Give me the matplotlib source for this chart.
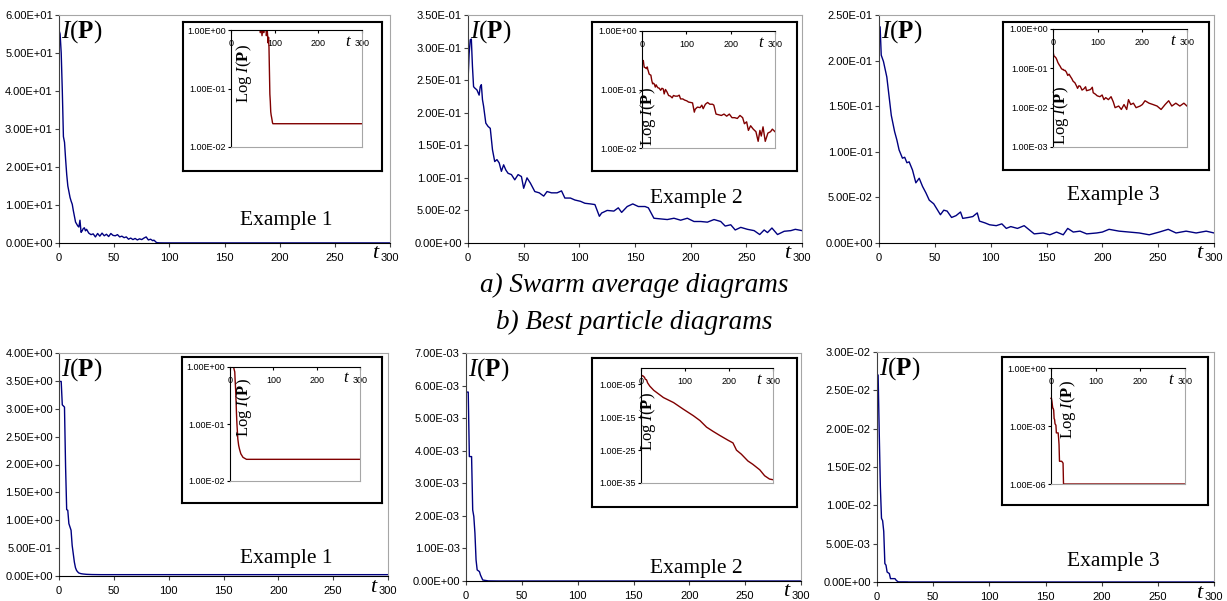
import numpy as np
import matplotlib
matplotlib.use("Agg")
import matplotlib.pyplot as plt
from matplotlib.ticker import FuncFormatter, FixedLocator, NullLocator

plt.rcParams['font.family'] = 'Liberation Sans'
plt.rcParams['mathtext.fontset'] = 'custom'
plt.rcParams['mathtext.rm'] = 'Liberation Serif'
plt.rcParams['mathtext.it'] = 'Liberation Serif:italic'
plt.rcParams['mathtext.bf'] = 'Liberation Serif:bold'

W, H = 1227, 601

# a) swarm average, example 1
t_a1 = [0, 1, 2, 3, 4, 5, 6, 7, 8, 9, 10, 11, 12, 13, 14, 15, 16, 17, 18, 19,
        20, 21, 22, 23, 24, 25, 27, 29, 31, 33, 35, 37, 39, 41, 43, 45, 47, 49,
        51, 53, 55, 57, 59, 61, 63, 65, 67, 69, 71, 73, 75, 77, 79, 81, 83, 85,
        86, 87, 88, 89, 90, 91, 92, 93, 94, 95, 96, 300]
v_a1 = [56.0, 55.0, 50.0, 40.0, 28.0, 26.5, 22.0, 18.0, 15.0, 13.5, 12.0, 11.0,
        10.2, 8.5, 7.0, 5.5, 5.0, 4.5, 4.2, 6.0, 2.8, 3.2, 3.8, 4.0, 3.2, 3.6,
        2.6, 2.2, 2.4, 1.6, 2.5, 1.8, 2.6, 1.9, 2.3, 1.7, 2.5, 2.0, 1.9, 2.2,
        1.6, 1.8, 1.4, 1.6, 1.0, 1.3, 0.9, 1.2, 0.8, 1.1, 0.9, 1.3, 1.6, 0.8,
        1.0, 0.6, 0.75, 0.5, 0.2, 0.08, 0.06, 0.04, 0.035, 0.032, 0.029, 0.026,
        0.025, 0.025]

# a) swarm average, example 2
t_a2 = [0, 1, 2, 3, 4, 5, 6, 8, 10, 11, 12, 13, 14, 16, 18, 20, 22, 24, 26, 28,
        30, 32, 34, 36, 39, 42, 45, 48, 50, 53, 56, 60, 64, 68, 71, 75, 80, 84,
        87, 92, 96, 101, 105, 110, 114, 118, 120, 125, 131, 135, 138, 143, 148,
        153, 159, 162, 167, 173, 179, 185, 191, 197, 203, 209, 215, 221, 227,
        231, 236, 240, 245, 251, 257, 262, 266, 269, 273, 278, 284, 290, 294, 300]
v_a2 = [0.248, 0.290, 0.312, 0.313, 0.271, 0.240, 0.238, 0.235, 0.227, 0.240,
        0.243, 0.220, 0.210, 0.184, 0.179, 0.176, 0.143, 0.125, 0.128, 0.123,
        0.110, 0.120, 0.112, 0.107, 0.105, 0.097, 0.105, 0.102, 0.084, 0.100,
        0.092, 0.079, 0.077, 0.072, 0.079, 0.077, 0.077, 0.080, 0.069, 0.069,
        0.066, 0.064, 0.061, 0.060, 0.059, 0.041, 0.046, 0.050, 0.049, 0.054,
        0.047, 0.056, 0.060, 0.056, 0.056, 0.054, 0.038, 0.037, 0.036, 0.038,
        0.035, 0.038, 0.033, 0.033, 0.032, 0.036, 0.033, 0.026, 0.028, 0.020,
        0.024, 0.021, 0.019, 0.013, 0.020, 0.016, 0.023, 0.013, 0.018, 0.019,
        0.021, 0.019]

# a) swarm average, example 3
t_a3 = [0, 1, 2, 4, 7, 9, 11, 14, 16, 18, 21, 23, 25, 27, 30, 33, 36, 39, 42, 45,
        49, 53, 55, 58, 61, 65, 69, 73, 75, 80, 84, 88, 90, 95, 99, 105, 110,
        114, 118, 124, 130, 135, 139, 147, 153, 159, 165, 169, 174, 180, 186,
        195, 200, 206, 215, 224, 233, 242, 251, 259, 266, 275, 284, 293, 300]
v_a3 = [0.237, 0.237, 0.206, 0.199, 0.182, 0.161, 0.140, 0.122, 0.113, 0.102,
        0.093, 0.094, 0.088, 0.089, 0.080, 0.066, 0.071, 0.062, 0.055, 0.047,
        0.043, 0.035, 0.031, 0.036, 0.035, 0.028, 0.030, 0.034, 0.027, 0.028,
        0.029, 0.033, 0.024, 0.022, 0.020, 0.019, 0.021, 0.016, 0.018, 0.016,
        0.019, 0.014, 0.010, 0.011, 0.009, 0.012, 0.009, 0.016, 0.012, 0.013,
        0.010, 0.011, 0.012, 0.015, 0.013, 0.012, 0.011, 0.009, 0.012, 0.015,
        0.011, 0.013, 0.011, 0.013, 0.011]

# b) best particle, example 1
t_b1 = [0, 2, 3, 5, 6, 7, 8, 9, 11, 12, 13, 14, 15, 16, 17, 18, 20, 22, 25, 30, 38, 300]
v_b1 = [3.49, 3.49, 3.07, 3.03, 1.96, 1.19, 1.18, 0.94, 0.82, 0.55, 0.40, 0.25,
        0.15, 0.10, 0.075, 0.055, 0.042, 0.036, 0.030, 0.026, 0.024, 0.024]

# b) best particle, example 2
t_b2 = [0, 2, 3, 5, 6, 7, 8, 9, 10, 12, 13, 15, 20, 29, 51, 74, 96, 119, 134,
        149, 164, 179, 198, 209, 217, 228, 243, 254, 270, 281, 292, 300]
v_b2 = [5.8e-3, 5.8e-3, 3.82e-3, 3.82e-3, 2.18e-3, 1.98e-3, 1.47e-3, 6.5e-4,
        3.4e-4, 2.9e-4, 1.8e-4, 3e-5, 3e-6, 1.6e-7, 1e-9, 3e-11, 3e-13, 3e-15,
        1e-16, 1e-18, 5e-20, 3e-21, 1e-22, 1.6e-23, 1e-25, 6e-27, 5e-29, 5e-30,
        1e-31, 1.6e-33, 1.6e-34, 1e-34]

# b) best particle, example 3
t_b3 = [0, 1, 2, 3, 4, 5, 6, 7, 8, 9, 11, 12, 16, 17, 18, 19, 24, 27, 28, 300]
v_b3 = [2.70e-2, 2.70e-2, 1.94e-2, 1.24e-2, 8.3e-3, 8.0e-3, 6.6e-3, 2.4e-3,
        2.2e-3, 1.3e-3, 1.1e-3, 4.4e-4, 4.4e-4, 2.4e-4, 1.1e-4, 1.5e-5, 1.5e-5,
        1.2e-5, 1e-6, 1e-6]

panels = [
    dict(t=t_a1, v=v_a1, ymax=60, ystep=10, n=1,
         main=(59, 15, 390, 243), box=(183, 22, 382, 171), inner=(231, 30, 362, 147),
         ylog=(1e-2, 1e0), iticks=[1e-2, 1e-1, 1e0], lab=(0.10, 0.63), ex=(0.686, 0.10)),
    dict(t=t_a2, v=v_a2, ymax=0.35, ystep=0.05, n=2,
         main=(468, 15, 802, 243), box=(592, 22, 797, 171), inner=(642, 31, 775, 148),
         ylog=(1e-2, 1e0), iticks=[1e-2, 1e-1, 1e0], lab=(0.045, 0.27), ex=(0.683, 0.197)),
    dict(t=t_a3, v=v_a3, ymax=0.25, ystep=0.05, n=3,
         main=(879, 15, 1214, 243), box=(1003, 22, 1209, 170), inner=(1053, 29, 1187, 147),
         ylog=(1e-3, 1e0), iticks=[1e-3, 1e-2, 1e-1, 1e0], lab=(0.06, 0.27), ex=(0.70, 0.21)),
    dict(t=t_b1, v=v_b1, ymax=4.0, ystep=0.5, n=1,
         main=(59, 353, 388, 576), box=(182, 357, 382, 503), inner=(230, 367, 360, 481),
         ylog=(1e-2, 1e0), iticks=[1e-2, 1e-1, 1e0], lab=(0.105, 0.64), ex=(0.69, 0.08)),
    dict(t=t_b2, v=v_b2, ymax=7e-3, ystep=1e-3, n=2,
         main=(466, 353, 801, 581), box=(592, 358, 797, 507), inner=(641, 368, 773, 483),
         ylog=(1e-35, 1e0), iticks=[1e-35, 1e-25, 1e-15, 1e-5], lab=(0.053, 0.53), ex=(0.687, 0.057)),
    dict(t=t_b3, v=v_b3, ymax=3e-2, ystep=5e-3, n=3,
         main=(877, 352, 1214, 582), box=(1002, 357, 1208, 505), inner=(1051, 368, 1185, 484),
         ylog=(1e-6, 1e0), iticks=[1e-6, 1e-3, 1e0], lab=(0.13, 0.64), ex=(0.70, 0.087),
         noclip=True),
]

BLUE = '#000080'
RED = '#800000'
SERIF = 'Liberation Serif'
sci = FuncFormatter(lambda val, _: f"{val:.2E}")


def px_box(l, t, r, b):
    return [l / W, 1 - b / H, (r - l) / W, (b - t) / H]


fig = plt.figure(figsize=(W / 100, H / 100), dpi=100)
fig.patch.set_facecolor('white')

for p in panels:
    # main linear plot
    ax = fig.add_axes(px_box(*p["main"]))
    ax.plot(p["t"], p["v"], color=BLUE, lw=1.0)
    ax.set_xlim(0, 300)
    ax.set_ylim(0, p["ymax"])
    ax.xaxis.set_major_locator(FixedLocator(np.arange(0, 301, 50)))
    nsteps = int(round(p["ymax"] / p["ystep"]))
    ax.yaxis.set_major_locator(FixedLocator(np.linspace(0, p["ymax"], nsteps + 1)))
    ax.yaxis.set_major_formatter(sci)
    ax.tick_params(labelsize=8, length=3, width=0.8, color='#404040')
    ax.tick_params(axis='x', pad=4)
    ax.tick_params(axis='y', pad=1.5)
    for s in ('top', 'right'):
        ax.spines[s].set_color('#a6a6a6')
        ax.spines[s].set_linewidth(0.8)
    ax.spines['left'].set_color('#404040')
    ax.spines['bottom'].set_color('black')
    ax.annotate(r'$\mathit{I}(\mathbf{P})$', xy=(0, 1), xycoords='axes fraction',
                xytext=(2, -3), textcoords='offset pixels', ha='left', va='top',
                fontsize=18)
    ax.annotate('t', xy=(1, 0), xycoords='axes fraction', xytext=(-15, -11),
                textcoords='offset pixels', ha='center', va='center',
                family=SERIF, style='italic', fontsize=16)
    ax.text(p["ex"][0], p["ex"][1], f"Example {p['n']}", transform=ax.transAxes,
            ha='center', va='center', family=SERIF, fontsize=15.5)

    # inset frame
    bx = fig.add_axes(px_box(*p["box"]))
    bx.set_xticks([])
    bx.set_yticks([])
    for s in bx.spines.values():
        s.set_linewidth(1.5)
        s.set_color('black')

    # inset log plot
    ix = fig.add_axes(px_box(*p["inner"]))
    ix.plot(p["t"], p["v"], color=RED, lw=1.0, clip_on=not p.get("noclip", False))
    ix.set_yscale('log')
    ix.set_ylim(*p["ylog"])
    ix.set_xlim(0, 300)
    ix.yaxis.set_major_locator(FixedLocator(p["iticks"]))
    ix.yaxis.set_minor_locator(NullLocator())
    ix.yaxis.set_major_formatter(sci)
    ix.xaxis.tick_top()
    ix.xaxis.set_major_locator(FixedLocator([0, 100, 200, 300]))
    ix.tick_params(axis='x', direction='in', length=2, pad=-13, labelsize=6.5)
    ix.tick_params(axis='y', direction='out', length=2, pad=1.5, labelsize=6.5)
    ix.spines['left'].set_color('black')
    ix.spines['top'].set_color('black')
    for s in ('right', 'bottom'):
        ix.spines[s].set_color('#a6a6a6')
        ix.spines[s].set_linewidth(0.8)
    ix.text(p["lab"][0], p["lab"][1], r'$\mathrm{Log}\ \mathit{I}(\mathbf{P})$',
            rotation=90, transform=ix.transAxes, ha='center', va='center', fontsize=12)
    ix.text(0.89, 0.9, 't', transform=ix.transAxes, ha='center', va='center',
            family=SERIF, style='italic', fontsize=12)

fig.text(634 / W, 1 - 285 / H, 'a) Swarm average diagrams', ha='center', va='center',
         family=SERIF, style='italic', fontsize=19.5)
fig.text(634 / W, 1 - 322 / H, 'b) Best particle diagrams', ha='center', va='center',
         family=SERIF, style='italic', fontsize=19.5)

fig.savefig('out.png', dpi=100, facecolor='white')
